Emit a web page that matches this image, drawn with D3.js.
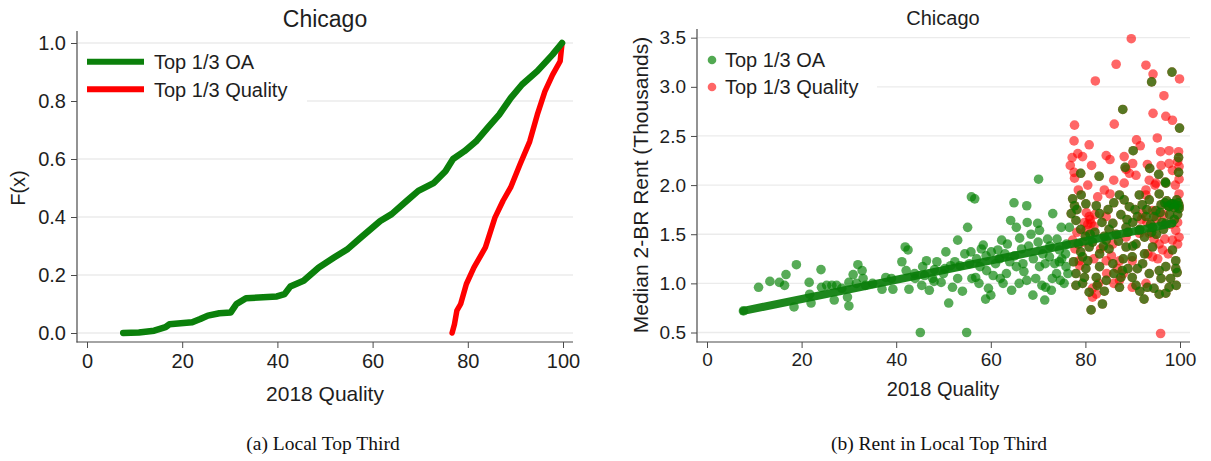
<!DOCTYPE html>
<html><head><meta charset="utf-8">
<script src="https://cdn.jsdelivr.net/npm/d3@7"></script>
<style>body{margin:0;background:#fff}svg{display:block}</style>
</head><body><svg id="c" width="1211" height="461"></svg>
<script>
// ---------- data ----------
const cityTitle = "Chicago";
const seriesNames = ["Top 1/3 OA", "Top 1/3 Quality"];
const qualityTicks = [0, 20, 40, 60, 80, 100];
const cdfTicks = [0, 0.2, 0.4, 0.6, 0.8, 1.0];
const rentTicks = [0.5, 1.0, 1.5, 2.0, 2.5, 3.0, 3.5];
const captions = ["(a) Local Top Third", "(b) Rent in Local Top Third"];

// Panel (a): empirical CDFs [quality, F(x)]
const cdfOA = [[7.6,0],[10.9,0.002],[14.1,0.008],[16.5,0.02],[17.3,0.03],[22.1,0.037],[23.8,0.048],[25.4,0.06],[27.8,0.068],[30.2,0.071],[31.4,0.1],[33.4,0.12],[39.9,0.126],[41.5,0.134],[42.7,0.16],[45.5,0.18],[48.7,0.226],[51.9,0.26],[54.8,0.29],[57.6,0.33],[61.6,0.386],[64,0.41],[67.2,0.456],[69.6,0.49],[72.9,0.518],[75.3,0.558],[76.9,0.6],[79.3,0.627],[81.7,0.66],[84.2,0.708],[86.6,0.753],[89,0.81],[91.4,0.857],[94.6,0.903],[97.8,0.96],[99.8,1.0]];
const cdfQuality = [[76.7,0],[77.2,0.03],[77.7,0.077],[78.5,0.1],[79.7,0.169],[81.3,0.226],[83.7,0.295],[85.7,0.398],[87.4,0.456],[89,0.502],[91,0.583],[93,0.66],[94.6,0.753],[96.2,0.833],[97.8,0.89],[99.4,0.937],[99.8,1.0]];

// Panel (b): [quality, median 2-BR rent (thousands)]
const rentOAOnly = [[7.7,0.72],[10.9,0.96],[13.3,1.02],[15.3,1.01],[16.4,0.98],[16.7,1.09],[18.9,1.19],[18.4,0.76],[21.6,1.01],[21.7,0.89],[22.0,0.80],[24.1,1.14],[24.2,0.96],[25.3,0.98],[26.4,0.98],[27.4,0.98],[26.9,0.83],[29.7,0.86],[30.0,0.77],[30.0,1.01],[30.9,1.09],[31.9,1.19],[32.8,1.13],[33.0,1.05],[31.6,1.00],[37.8,1.06],[37.0,0.94],[39.3,0.94],[41.2,1.22],[41.9,1.37],[42.5,1.34],[42.7,0.94],[42.1,1.13],[43.9,1.10],[45.1,0.50],[45.6,1.17],[45.4,0.98],[46.4,1.23],[47.0,0.93],[48.1,1.14],[48.6,1.22],[50.5,1.32],[51.1,0.80],[51.9,0.96],[53.0,1.44],[49.5,1.01],[47.7,1.05],
[55.9,1.88],[56.6,1.86],[64.9,1.82],[67.6,1.79],[73.1,1.71],[55.1,1.57],[64.2,1.64],[67.7,1.62],[69.9,1.61],[70.3,1.54],[74.9,1.57],[58.4,1.39],[62.3,1.44],[66.1,1.46],[65.4,1.57],[55.8,1.32],[54.5,1.30],[60.1,1.32],[61.5,1.34],[59.1,1.13],[56.8,1.06],[60.0,0.88],[58.9,0.84],[64.4,0.93],[68.9,0.88],[71.4,0.83],[71.6,0.96],[67.6,1.03],[66.8,1.20],[70.3,1.17],[73.9,1.10],[74.7,1.03],[75.9,1.17],[62.6,1.00],[54.9,0.50],[50.3,1.15],[52.4,1.22],[57.7,1.17],[63.3,1.10],[65.4,1.17],[72.4,1.27],[74.5,1.34],[76.6,1.57],[70.1,2.06],
[72.0,1.45],[73.5,1.20],[75.0,1.25],[76.0,1.40],[71.0,1.30],[69.0,1.25],[68.0,1.38],[63.0,1.30],[61.0,1.20],[57.0,1.25],[59.0,1.28],[53.5,1.18],[56.0,1.05],[66.0,1.00],[69.5,1.05],[72.8,0.93],[75.5,1.00],[74.0,1.45],[62.0,1.05],[64.0,1.22],
[44.0,1.05],[46.0,1.08],[48.0,1.02],[50.0,1.10],[51.5,1.18],[53.0,1.05],[54.0,0.92],[55.5,1.20],[57.5,1.00],[58.0,1.35],[60.5,1.08],[61.8,1.25],[63.5,1.40],[65.0,1.28],[66.5,1.35],[67.0,1.12],[68.5,1.50],[70.0,1.42],[71.5,1.20],[72.5,1.38],[73.0,1.05],[74.5,1.22],[75.8,1.30],[76.3,1.10],[70.8,0.98],[59.5,0.95],[39.0,1.05],[35.0,1.00],[28.5,0.95],[33.5,0.98]];
const rentBoth = [[98.3,3.15],[94.0,3.05],[87.9,2.77],[99.9,2.58],[90.1,2.35],[99.7,2.28],[88.4,2.18],[93.6,2.17],[95.5,2.11],[96.9,2.03],[79.0,2.12],[82.9,2.09],[99.7,2.13],
[77.3,1.86],[79.1,1.90],[80.1,1.81],[77.7,1.79],[77.0,1.71],[78.0,1.64],[82.3,1.79],[83.0,1.71],[87.2,1.90],[88.2,1.85],[89.3,1.78],[91.4,1.90],[93.5,1.85],[95.6,1.91],[97.0,2.02],[98.4,1.81],[99.8,1.79],[97.7,1.78],[94.9,1.74],[92.8,1.68],[85.8,1.61],[88.6,1.57],[91.4,1.54],[94.2,1.57],[97.0,1.61],[84.4,1.44],[80.8,1.37],[79.4,1.27],[83.0,1.30],[88.6,1.37],[90.7,1.40],[94.2,1.37],[98.4,1.34],[99.1,1.23],[97.0,1.17],[95.6,1.13],[99.1,1.15],[92.1,1.20],[89.9,1.27],[87.8,1.13],[85.8,1.20],[83.0,1.17],[80.1,1.15],[78.0,1.10],[79.8,1.06],[82.3,1.06],[84.4,1.03],[87.2,0.96],[79.4,1.00],[80.8,0.91],[83.6,0.79],[81.2,0.73],[90.7,0.98],[93.1,0.96],[92.4,0.84],[95.6,0.89],[97.7,0.96],[99.4,1.11],[89.9,1.06],[87.5,1.06],
[96.0,1.80],[96.8,1.82],[97.5,1.79],[98.2,1.81],[99.0,1.80],[99.6,1.82],[99.8,1.76],[98.8,1.77],[97.2,1.84],[99.3,1.85],
[78.5,1.40],[81.5,1.42],[84.0,1.48],[86.5,1.50],[89.0,1.52],[91.5,1.55],[93.8,1.60],[96.2,1.62],[85.0,1.55],[90.0,1.62],[82.0,1.52],[87.0,1.43],[92.5,1.47],[95.0,1.50],[80.0,1.48],
[78.2,1.75],[79.0,1.55],[81.0,1.50],[83.5,1.62],[84.8,1.75],[86.0,1.82],[87.5,1.70],[88.8,1.65],[90.5,1.75],[91.0,1.68],[92.0,1.80],[93.0,1.75],[94.5,1.68],[95.8,1.72],[97.8,1.70],[98.8,1.65],[99.5,1.70],[96.5,1.55],[94.0,1.52],[92.5,1.30],[91.0,1.15],[89.0,1.15],[86.0,1.10],[85.0,1.35],[88.0,1.25],[90.0,1.38],[93.5,1.10],[96.0,1.05],[98.0,1.05],[99.2,0.98],[97.0,0.90],[94.5,0.95],[91.5,0.92],[84.0,0.92],[82.5,0.98],[79.0,1.32],[77.5,1.22],[78.0,0.98],[80.5,1.23],[83.8,1.38]];
const rentQualityOnly = [[89.7,3.49],[86.5,3.23],[92.8,3.22],[94.3,3.13],[99.9,3.08],[82.1,3.06],[96.6,2.91],[94.3,2.73],[97.0,2.70],[98.4,2.66],[77.7,2.61],[86.1,2.62],[95.2,2.48],[77.6,2.45],[80.8,2.41],[90.8,2.46],[91.6,2.40],[95.9,2.34],[97.7,2.35],[99.7,2.34],[78.4,2.32],[79.4,2.29],[77.2,2.28],[84.4,2.30],[85.2,2.26],[88.2,2.29],[76.8,2.20],[81.3,2.20],[77.6,2.13],[77.7,2.07],[88.6,2.16],[89.3,2.12],[90.7,2.10],[93.1,2.21],[97.7,2.22],[98.4,2.15],[99.8,2.19],[88.2,2.02],[92.8,1.95],[94.7,2.00],[99.8,2.06],[99.8,1.91],[82.6,1.88],[85.2,1.91],[92.8,1.90],
[94.9,2.02],[80.8,1.68],[81.2,1.61],[80.1,1.54],[84.4,1.68],[92.1,1.71],[94.2,1.74],[99.1,1.54],[98.4,1.44],[99.8,1.47],[95.6,1.40],[96.3,1.34],[94.2,1.27],[89.9,1.23],[87.2,1.23],[84.4,1.23],[78.7,1.23],[77.3,1.44],[91.4,1.51],[88.6,1.47],[85.8,1.40],[87.2,1.03],[89.9,0.96],[81.5,0.86],[82.3,0.89],[95.9,0.49],[92.8,1.00],[93.5,1.51],
[80.2,1.72],[81.0,1.65],[81.8,1.58],[80.5,1.60],[82.0,1.70],[79.8,1.62],[91.8,1.65],[93.0,1.62],[95.0,1.66],[96.5,1.70],[98.0,1.60],[99.5,1.62],[99.5,1.40],[97.5,1.30],[96.8,1.45],[95.3,1.25],[94.5,1.45],[93.2,1.30],
[85.5,1.28],[86.8,1.15],[88.0,1.10],[84.5,1.10],[86.0,1.00],[83.2,1.35],[81.8,1.25],[79.5,1.42],[78.2,1.52],[77.8,1.35],[78.8,1.18],[82.8,1.00],[81.5,0.95],
[99.5,2.24],[99.0,2.00],[96.0,2.20],[93.5,2.05],[90.0,2.22],[86.0,2.05],[84.0,1.95],[80.5,2.00],[78.5,1.95]];
const fitQuality = [7.7, 98.4];
const fitRent = [0.72, 1.61];

// ---------- style ----------
const FONT = "'Liberation Sans', Arial, Helvetica, sans-serif";
const SERIF = "'Liberation Serif', 'Times New Roman', serif";
const GREEN = "#0b800b", RED = "#ff0000";
const AXIS = "#4a4a4a", GRID = "#ebebeb", TXT = "#1e1e1e";

const svg = d3.select("#c");
svg.append("rect").attr("width",1211).attr("height",461).attr("fill","#fff");

function styleAxis(g, fs){
  g.select(".domain").remove();
  g.selectAll(".tick line").attr("stroke", AXIS).attr("stroke-width", 1);
  g.selectAll(".tick text").attr("font-family", FONT).attr("font-size", fs).attr("fill", TXT);
}

// ---------- panel (a) ----------
const xL = d3.scaleLinear().domain([0,100]).range([87,563]);
const yL = d3.scaleLinear().domain([0,1]).range([333,43]);
const pa = svg.append("g");
pa.append("g").selectAll("line").data(cdfTicks).join("line")
  .attr("x1",78).attr("x2",573).attr("y1",d=>yL(d)).attr("y2",d=>yL(d))
  .attr("stroke",GRID).attr("stroke-width",1.3);
const ayL = pa.append("g").attr("transform","translate(77,0)")
  .call(d3.axisLeft(yL).tickValues(cdfTicks).tickFormat(d3.format(".1f")).tickSize(6).tickPadding(5));
styleAxis(ayL, 20);
const axL = pa.append("g").attr("transform","translate(0,342)")
  .call(d3.axisBottom(xL).tickValues(qualityTicks).tickFormat(d3.format("d")).tickSize(6).tickPadding(6));
styleAxis(axL, 20);
pa.append("line").attr("x1",77).attr("x2",77).attr("y1",31).attr("y2",342.5).attr("stroke",AXIS).attr("stroke-width",1.2);
pa.append("line").attr("x1",76.5).attr("x2",573).attr("y1",342).attr("y2",342).attr("stroke",AXIS).attr("stroke-width",1.2);

const lineL = d3.line().x(d=>xL(d[0])).y(d=>yL(d[1]));
pa.append("path").datum(cdfQuality).attr("d",lineL).attr("fill","none")
  .attr("stroke",RED).attr("stroke-width",5.5).attr("stroke-linejoin","round").attr("stroke-linecap","round");
pa.append("path").datum(cdfOA).attr("d",lineL).attr("fill","none")
  .attr("stroke",GREEN).attr("stroke-width",6.5).attr("stroke-linejoin","round").attr("stroke-linecap","round");

// legend (a)
pa.append("rect").attr("x",78).attr("y",45).attr("width",229).attr("height",58).attr("fill","#fff");
const legA = pa.append("g").selectAll("g").data(seriesNames).join("g")
  .attr("transform",(d,i)=>`translate(0,${61.7 + i*27.6})`);
legA.append("line").attr("x1",87).attr("x2",144).attr("y1",0).attr("y2",0)
  .attr("stroke",(d,i)=>i===0?GREEN:RED).attr("stroke-width",6);
legA.append("text").attr("x",154).attr("y",7.5).text(d=>d)
  .attr("font-family",FONT).attr("font-size",20).attr("fill",TXT);

pa.append("text").attr("x",325).attr("y",27).attr("text-anchor","middle").text(cityTitle)
  .attr("font-family",FONT).attr("font-size",23).attr("fill",TXT);
pa.append("text").attr("x",325).attr("y",401).attr("text-anchor","middle").text("2018 Quality")
  .attr("font-family",FONT).attr("font-size",21).attr("fill",TXT);
pa.append("text").attr("transform","translate(25,188) rotate(-90)").attr("text-anchor","middle").text("F(x)")
  .attr("font-family",FONT).attr("font-size",20).attr("fill",TXT);

// ---------- panel (b) ----------
const xR = d3.scaleLinear().domain([0,100]).range([707,1180]);
const yR = d3.scaleLinear().domain([0.5,3.5]).range([332.5,37.7]);
const pb = svg.append("g");
pb.append("g").selectAll("line").data(rentTicks).join("line")
  .attr("x1",698).attr("x2",1190).attr("y1",d=>yR(d)).attr("y2",d=>yR(d))
  .attr("stroke",GRID).attr("stroke-width",1.3);
const ayR = pb.append("g").attr("transform","translate(697,0)")
  .call(d3.axisLeft(yR).tickValues(rentTicks).tickFormat(d3.format(".1f")).tickSize(6).tickPadding(5));
styleAxis(ayR, 19);
const axR = pb.append("g").attr("transform","translate(0,342)")
  .call(d3.axisBottom(xR).tickValues(qualityTicks).tickFormat(d3.format("d")).tickSize(6).tickPadding(5));
styleAxis(axR, 19);
pb.append("line").attr("x1",697).attr("x2",697).attr("y1",29).attr("y2",342.5).attr("stroke",AXIS).attr("stroke-width",1.2);
pb.append("line").attr("x1",696.5).attr("x2",1190).attr("y1",342).attr("y2",342).attr("stroke",AXIS).attr("stroke-width",1.2);

const redPts = rentQualityOnly.concat(rentBoth);
const greenPts = rentOAOnly.concat(rentBoth);
pb.append("g").selectAll("circle").data(redPts).join("circle")
  .attr("cx",d=>xR(d[0])).attr("cy",d=>yR(d[1])).attr("r",4.8)
  .attr("fill",RED).attr("fill-opacity",0.6);
pb.append("g").selectAll("circle").data(greenPts).join("circle")
  .attr("cx",d=>xR(d[0])).attr("cy",d=>yR(d[1])).attr("r",4.8)
  .attr("fill","#008000").attr("fill-opacity",0.66);
pb.append("line").attr("x1",xR(fitQuality[0])).attr("x2",xR(fitQuality[1]))
  .attr("y1",yR(fitRent[0])).attr("y2",yR(fitRent[1]))
  .attr("stroke","#0a7d0a").attr("stroke-width",8).attr("stroke-linecap","round").attr("opacity",0.92);

// legend (b)
pb.append("rect").attr("x",698).attr("y",42).attr("width",179).attr("height",60).attr("fill","#fff");
const legB = pb.append("g").selectAll("g").data(seriesNames).join("g")
  .attr("transform",(d,i)=>`translate(0,${60 + i*27})`);
legB.append("circle").attr("cx",712).attr("cy",0).attr("r",4.3)
  .attr("fill",(d,i)=>i===0?"#008000":RED).attr("fill-opacity",(d,i)=>i===0?0.68:0.6);
legB.append("text").attr("x",725).attr("y",7).text(d=>d)
  .attr("font-family",FONT).attr("font-size",20).attr("fill",TXT);

pb.append("text").attr("x",943).attr("y",25).attr("text-anchor","middle").text(cityTitle)
  .attr("font-family",FONT).attr("font-size",20).attr("fill",TXT);
pb.append("text").attr("x",943).attr("y",396).attr("text-anchor","middle").text("2018 Quality")
  .attr("font-family",FONT).attr("font-size",20).attr("fill",TXT);
pb.append("text").attr("transform","translate(648,185) rotate(-90)").attr("text-anchor","middle").text("Median 2-BR Rent (Thousands)")
  .attr("font-family",FONT).attr("font-size",21).attr("fill",TXT);

// captions
svg.selectAll("text.cap").data(captions).join("text").attr("class","cap")
  .attr("x",(d,i)=>i===0?323:939).attr("y",450).attr("text-anchor","middle").text(d=>d)
  .attr("font-family",SERIF).attr("font-size",19.5).attr("fill","#111");
</script></body></html>
